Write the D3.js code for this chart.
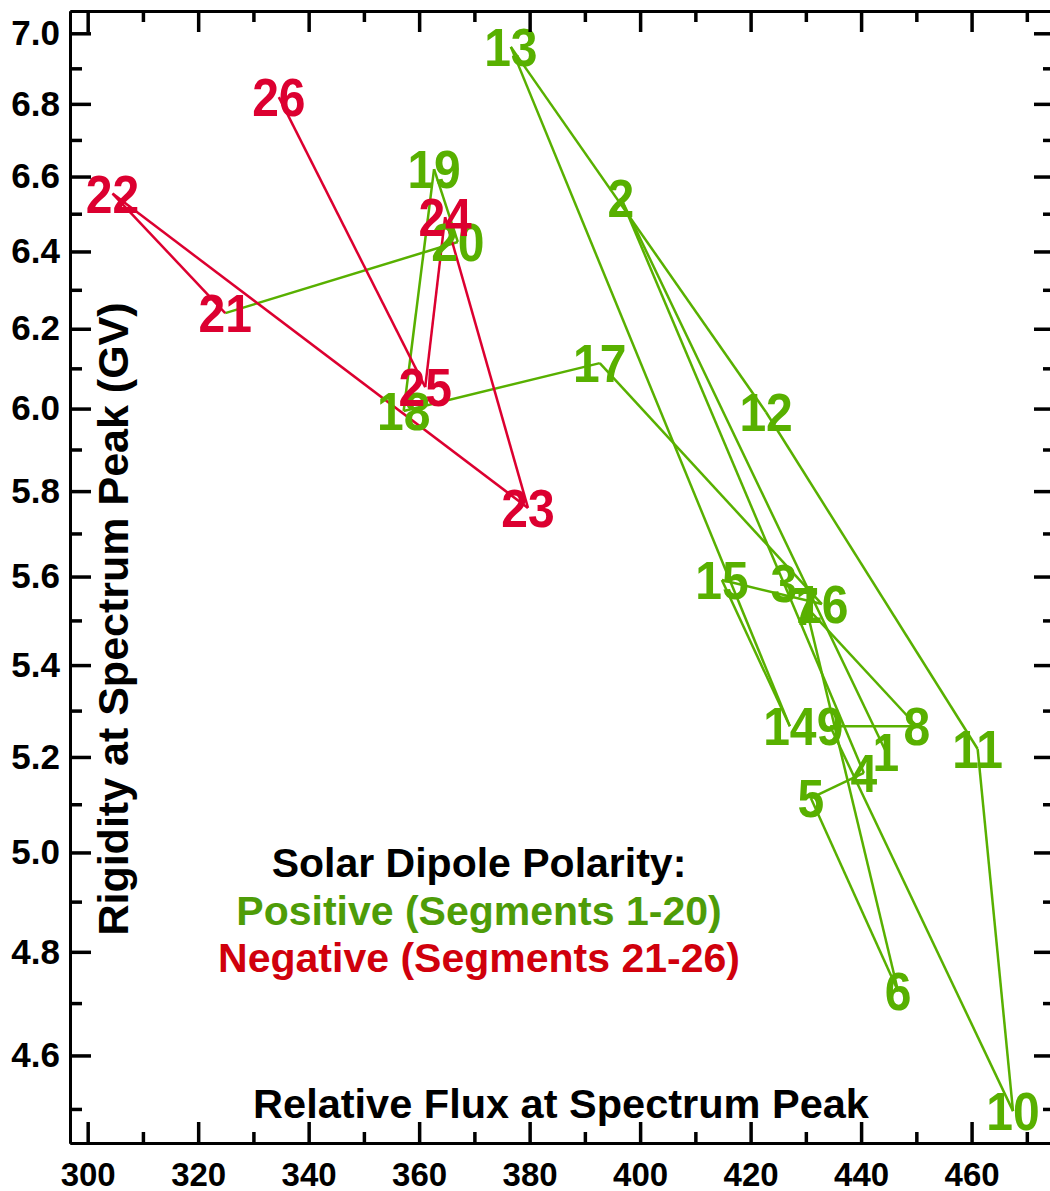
<!DOCTYPE html>
<html>
<head>
<meta charset="utf-8">
<script src="https://cdn.jsdelivr.net/npm/d3@7"></script>
<style>
  body { margin: 0; background: #fff; }
  svg text { font-family: 'Liberation Sans', Arial, sans-serif; font-weight: bold; }
</style>
</head>
<body>
<div id="chart"></div>
<script>
// segment numbers and their spectrum-peak values
const segments = [1, 2, 3, 4, 5, 6, 7, 8, 9, 10, 11, 12, 13, 14, 15, 16, 17, 18, 19, 20, 21, 22, 23, 24, 25, 26]
const flux = [444.5, 396.5, 426.0, 440.5, 430.9, 446.7, 430.0, 450.1, 434.4, 467.5, 461.1, 422.8, 376.6,
  427.1, 414.8, 432.9, 392.7, 357.2, 362.7, 367.0, 324.9, 304.5, 379.7, 364.7, 361.1, 334.6]
const rigidity = [5.211, 6.542, 5.585, 5.166, 5.113, 4.723, 5.532, 5.266, 5.266, 4.496, 5.217, 5.991, 6.961,
  5.266, 5.592, 5.537, 6.113, 5.994, 6.620, 6.425, 6.240, 6.554, 5.760, 6.491, 6.053, 6.819]
const lastPositive = 20

const xMajor = [300, 320, 340, 360, 380, 400, 420, 440, 460]
const xMinor = [310, 330, 350, 370, 390, 410, 430, 450, 470]
const yMajor = [4.6, 4.8, 5.0, 5.2, 5.4, 5.6, 5.8, 6.0, 6.2, 6.4, 6.6, 6.8, 7.0]
const yMinor = [4.5, 4.7, 4.9, 5.1, 5.3, 5.5, 5.7, 5.9, 6.1, 6.3, 6.5, 6.7, 6.9]

const green = '#58b000'
const red = '#dc0030'

const margin = { top: 11, left: 70, right: -5, bottom: 48 }
const width = 1050 - margin.left - margin.right
const height = 1191 - margin.top - margin.bottom

const svg = d3
  .select('#chart')
  .append('svg')
  .attr('width', 1050)
  .attr('height', 1191)
  .append('g')
  .attr('transform', 'translate(' + margin.left + ',' + margin.top + ')')

const xPositionScale = d3.scaleLinear().domain([296.8, 475.1]).range([0, width])
const yPositionScale = d3.scaleLog().domain([4.4375, 7.0644]).range([height, 0])

const points = segments.map((s, i) => ({ seg: s, x: flux[i], y: rigidity[i] }))

// path segments, coloured by polarity of the starting segment
const links = d3.pairs(points)
svg
  .selectAll('.link')
  .data(links)
  .enter()
  .append('line')
  .attr('class', 'link')
  .attr('x1', d => xPositionScale(d[0].x))
  .attr('y1', d => yPositionScale(d[0].y))
  .attr('x2', d => xPositionScale(d[1].x))
  .attr('y2', d => yPositionScale(d[1].y))
  .attr('stroke', d => (d[0].seg <= lastPositive ? green : red))
  .attr('stroke-width', 2.5)

// number labels centred on each point
const labelSize = 48
svg
  .selectAll('.seg-label')
  .data(points)
  .enter()
  .append('text')
  .attr('class', 'seg-label')
  .attr('transform', d => 'translate(' + xPositionScale(d.x) + ',' + yPositionScale(d.y) + ') scale(1,1.1)')
  .attr('dy', '0.36em')
  .attr('text-anchor', 'middle')
  .attr('font-size', labelSize)
  .attr('fill', d => (d.seg <= lastPositive ? green : red))
  .text(d => d.seg)

// axes, ticks pointing inward
function styleAxis(g) {
  g.select('.domain').attr('stroke', '#000').attr('stroke-width', 3)
  g.selectAll('.tick line').attr('stroke', '#000').attr('stroke-width', 3.5)
  g.selectAll('.tick text').attr('fill', '#000').attr('font-size', 33)
}

svg
  .append('g')
  .attr('class', 'axis x-axis')
  .attr('transform', 'translate(0,' + height + ')')
  .call(d3.axisBottom(xPositionScale).tickValues(xMajor).tickSize(-21).tickSizeOuter(0).tickPadding(20))
  .call(styleAxis)
svg
  .append('g')
  .attr('transform', 'translate(0,' + height + ')')
  .call(d3.axisBottom(xPositionScale).tickValues(xMinor).tickSize(-11).tickSizeOuter(0).tickFormat(''))
  .call(styleAxis)
svg
  .append('g')
  .call(d3.axisTop(xPositionScale).tickValues(xMajor).tickSize(-21).tickSizeOuter(0).tickFormat(''))
  .call(styleAxis)
svg
  .append('g')
  .call(d3.axisTop(xPositionScale).tickValues(xMinor).tickSize(-11).tickSizeOuter(0).tickFormat(''))
  .call(styleAxis)

svg
  .append('g')
  .attr('class', 'axis y-axis')
  .call(d3.axisLeft(yPositionScale).tickValues(yMajor).tickSize(-21).tickSizeOuter(0).tickPadding(10)
    .tickFormat(d3.format('.1f')))
  .call(styleAxis)
svg.selectAll('.y-axis .tick text').attr('font-size', 35)
svg
  .append('g')
  .call(d3.axisLeft(yPositionScale).tickValues(yMinor).tickSize(-12).tickSizeOuter(0).tickFormat(''))
  .call(styleAxis)
svg
  .append('g')
  .attr('transform', 'translate(' + width + ',0)')
  .call(d3.axisRight(yPositionScale).tickValues(yMajor).tickSize(-21).tickSizeOuter(0).tickFormat(''))
  .call(styleAxis)
svg
  .append('g')
  .attr('transform', 'translate(' + width + ',0)')
  .call(d3.axisRight(yPositionScale).tickValues(yMinor).tickSize(-12).tickSizeOuter(0).tickFormat(''))
  .call(styleAxis)

// axis titles inside the frame
svg
  .append('text')
  .text('Relative Flux at Spectrum Peak')
  .attr('x', 561 - margin.left)
  .attr('y', 1118 - margin.top)
  .attr('text-anchor', 'middle')
  .attr('font-size', 41.5)

svg
  .append('text')
  .text('Rigidity at Spectrum Peak (GV)')
  .attr('transform', 'translate(' + (128 - margin.left) + ',' + (619 - margin.top) + ') rotate(-90)')
  .attr('text-anchor', 'middle')
  .attr('font-size', 43)

// polarity legend
const legendLines = ['Solar Dipole Polarity:', 'Positive (Segments 1-20)', 'Negative (Segments 21-26)']
const legendColors = ['#000', '#4e9c08', '#d0000c']
svg
  .selectAll('.legend')
  .data(legendLines)
  .enter()
  .append('text')
  .attr('class', 'legend')
  .attr('x', 479 - margin.left)
  .attr('y', (d, i) => 877 - margin.top + i * 47.5)
  .attr('text-anchor', 'middle')
  .attr('font-size', 41)
  .attr('fill', (d, i) => legendColors[i])
  .text(d => d)
</script>
</body>
</html>
